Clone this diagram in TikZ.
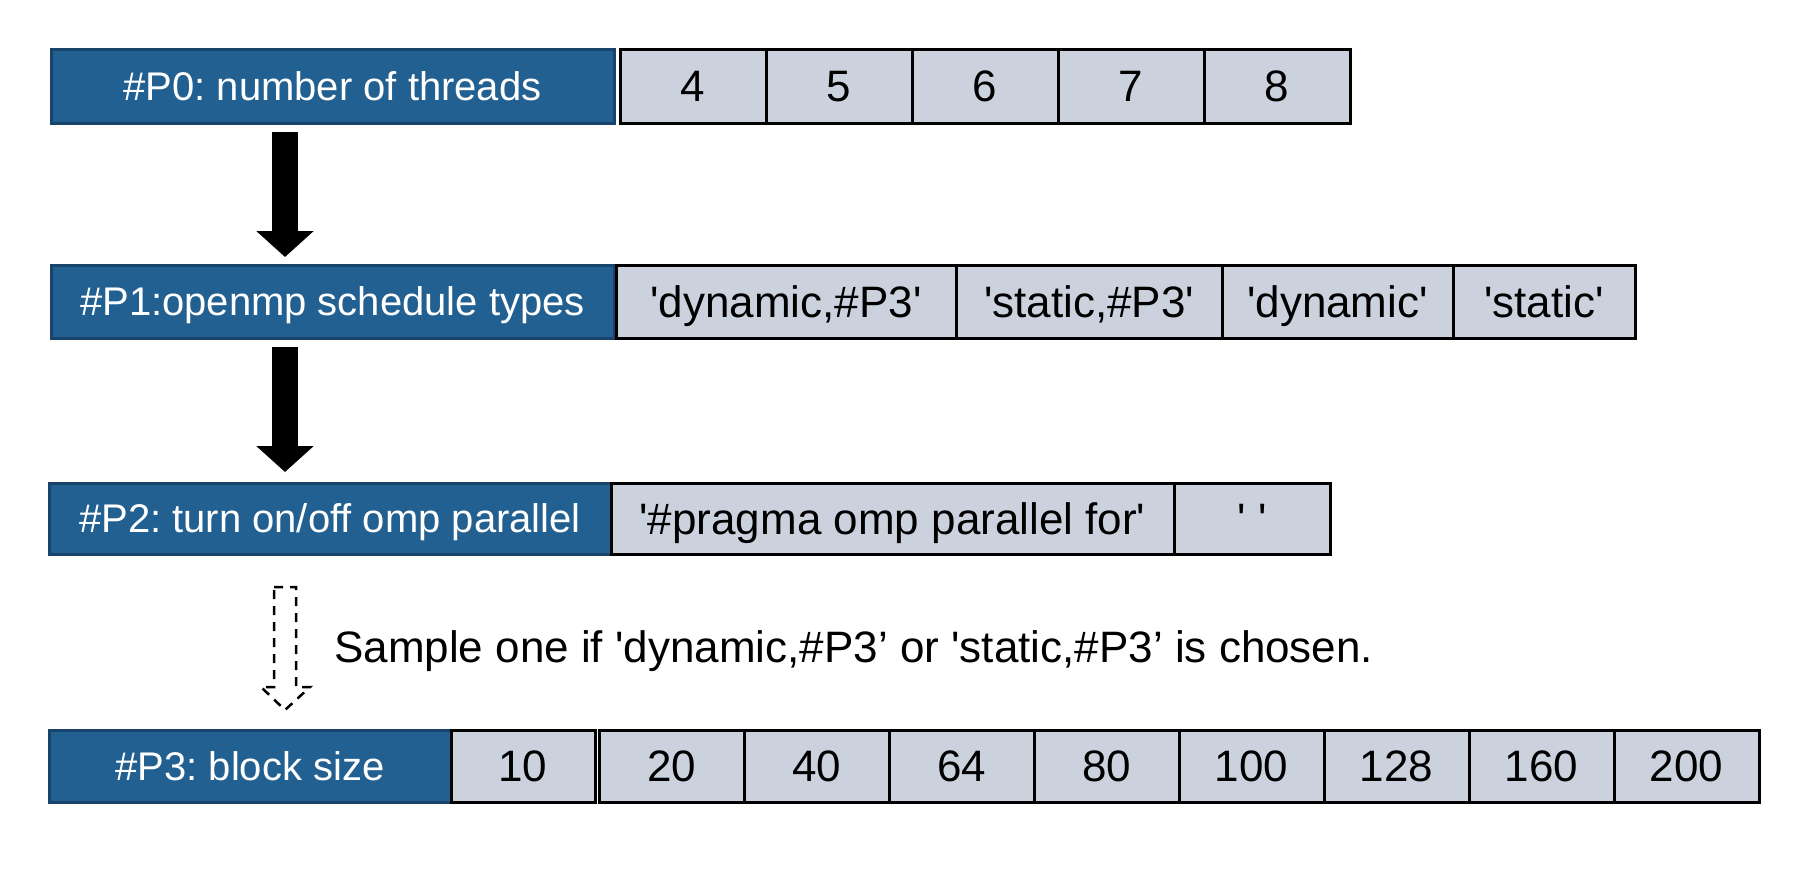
\documentclass[tikz,border=0pt]{standalone}
\usepackage{fontspec}
\setmainfont{Liberation Sans}[Ligatures=TeXOff]
\usetikzlibrary{arrows.meta}
\frenchspacing
\definecolor{pblue}{RGB}{34,96,145}
\definecolor{pborder}{RGB}{24,68,108}
\definecolor{cellgray}{RGB}{203,210,222}
\tikzset{
 box/.style={rectangle, inner sep=0pt, outer sep=0pt, line width=3pt, anchor=center},
 lab/.style={box, fill=pblue, draw=pborder, text=white, font=\fontsize{40}{48}\selectfont, text height=33pt, text depth=4.4pt},
 cell/.style={box, fill=cellgray, draw=black, font=\fontsize{44}{52}\selectfont, text height=36pt, text depth=4.5pt},
 blockarrow/.style={line width=26pt, line cap=butt, -{Triangle[width=56pt,length=26pt]}, black},
 dasharrow/.style={line width=2.5pt, dash pattern=on 9pt off 7pt, black},
}
\begin{document}
\begin{tikzpicture}[x=1pt,y=-1pt]
\useasboundingbox (0,0) rectangle (1813,873);
% Row 0
\node[lab, minimum width=563pt, minimum height=74pt] (p0) at (332.5,86) {\#P0: number of threads};
\node[cell, minimum width=146pt, minimum height=74pt] (c00) at (693,86) {4};
\node[cell, minimum width=146pt, minimum height=74pt] (c01) at (839,86) {5};
\node[cell, minimum width=146pt, minimum height=74pt] (c02) at (985,86) {6};
\node[cell, minimum width=146pt, minimum height=74pt] (c03) at (1131,86) {7};
\node[cell, minimum width=146pt, minimum height=74pt] (c04) at (1277,86) {8};
% Row 1
\node[lab, minimum width=563pt, minimum height=73pt] (p1) at (332.5,301.5) {\#P1:openmp schedule types};
\node[cell, minimum width=340pt, minimum height=73pt] (c10) at (786,301.5) {'dynamic,\#P3'};
\node[cell, minimum width=266pt, minimum height=73pt] (c11) at (1089,301.5) {'static,\#P3'};
\node[cell, minimum width=231pt, minimum height=73pt] (c12) at (1337.5,301.5) {'dynamic'};
\node[cell, minimum width=182pt, minimum height=73pt] (c13) at (1544,301.5) {'static'};
% Row 2
\node[lab, minimum width=562pt, minimum height=71pt] (p2) at (330,518.5) {\#P2: turn on/off omp parallel};
\node[cell, minimum width=563pt, minimum height=71pt] (c20) at (892.5,518.5) {'\#pragma omp parallel for'};
\node[cell, minimum width=156pt, minimum height=71pt] (c21) at (1252,518.5) {' '};
% Row 3
\node[lab, minimum width=402pt, minimum height=72pt] (p3) at (250,766) {\#P3: block size};
\node[cell, minimum width=144pt, minimum height=72pt] (c30) at (523,766) {10};
\node[cell, minimum width=145pt, minimum height=72pt] (c31) at (671.5,766) {20};
\node[cell, minimum width=145pt, minimum height=72pt] (c32) at (816.5,766) {40};
\node[cell, minimum width=145pt, minimum height=72pt] (c33) at (961.5,766) {64};
\node[cell, minimum width=145pt, minimum height=72pt] (c34) at (1106.5,766) {80};
\node[cell, minimum width=145pt, minimum height=72pt] (c35) at (1251.5,766) {100};
\node[cell, minimum width=145pt, minimum height=72pt] (c36) at (1396.5,766) {128};
\node[cell, minimum width=145pt, minimum height=72pt] (c37) at (1541.5,766) {160};
\node[cell, minimum width=145pt, minimum height=72pt] (c38) at (1686.5,766) {200};
% Arrows
\coordinate (a0s) at (285,132);
\coordinate (a0e) at (285,257);
\coordinate (a1s) at (285,347);
\coordinate (a1e) at (285,472);
\draw[blockarrow] (a0s) -- (a0e);
\draw[blockarrow] (a1s) -- (a1e);
% Dashed arrow
\coordinate (d0) at (274,587);
\draw[dasharrow] (d0) -- (296,587) -- (296,687) -- (310,687) -- (285,710) -- (261,687) -- (274,687) -- cycle;
\node[anchor=west, inner sep=0pt, font=\fontsize{44}{52}\selectfont] (note) at (334,651) {Sample one if 'dynamic,\#P3’ or 'static,\#P3’ is chosen.};
\end{tikzpicture}
\end{document}
